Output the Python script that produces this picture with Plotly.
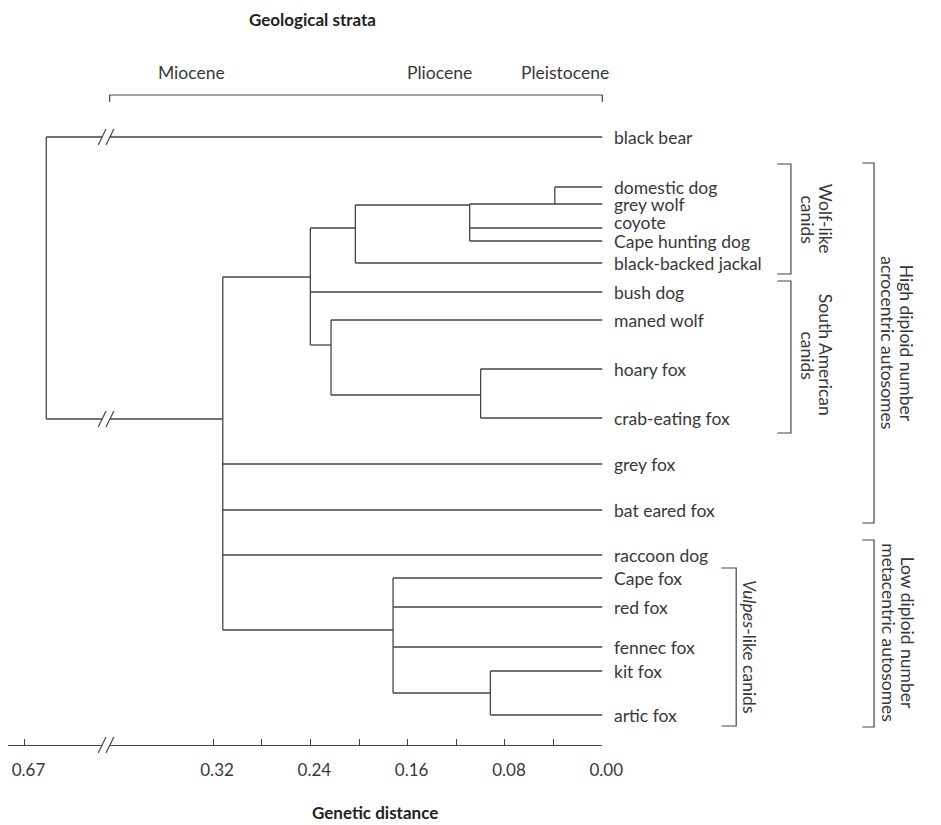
import plotly.graph_objects as go

# ---------------- data ----------------
leaves = ["black bear", "domestic dog", "grey wolf", "coyote", "Cape hunting dog",
          "black-backed jackal", "bush dog", "maned wolf", "hoary fox", "crab-eating fox",
          "grey fox", "bat eared fox", "raccoon dog", "Cape fox", "red fox",
          "fennec fox", "kit fox", "artic fox"]
# vertical layout rows of the leaves (top = 0)
leaf_row = [137, 187, 204, 228, 241, 263, 292, 320, 369, 418,
            464, 510, 555, 578, 607, 647, 671, 715]
label_row_override = {"coyote": 222}

node_names = ["dog_wolf", "wolf_group", "wolf_like", "hoary_crab", "sa_inner",
              "wolf_sa", "kit_arctic", "vulpes", "canids", "root"]
node_children = [["domestic dog", "grey wolf"],
                 ["dog_wolf", "coyote", "Cape hunting dog"],
                 ["wolf_group", "black-backed jackal"],
                 ["hoary fox", "crab-eating fox"],
                 ["maned wolf", "hoary_crab"],
                 ["wolf_like", "bush dog", "sa_inner"],
                 ["kit fox", "artic fox"],
                 ["Cape fox", "red fox", "fennec fox", "kit_arctic"],
                 ["wolf_sa", "grey fox", "bat eared fox", "raccoon dog", "vulpes"],
                 ["black bear", "canids"]]
node_distance = [0.039, 0.109, 0.203, 0.100, 0.223, 0.240, 0.092, 0.172, 0.312, 0.60]
node_join_row = [204, 205, 228, 395, 345, 277, 693, 630, 419, None]

tick_values = [0.67, 0.32, 0.28, 0.24, 0.20, 0.16, 0.12, 0.08, 0.04, 0.00]
tick_labels = ["0.67", "0.32", "", "0.24", "", "0.16", "", "0.08", "", "0.00"]

strata_labels = ["Miocene", "Pliocene", "Pleistocene"]
strata_centers = [0.338, 0.134, 0.031]
strata_span = [0.405, 0.0]

# ---------------- scale (broken axis) ----------------
W, H = 941, 825
PLOT_BOTTOM = 745
PXU = 1244.0      # px per distance unit (linear part)
X0 = 616          # px of distance 0
D_BREAK = 0.408
K = 0.256         # compression beyond the break


def u(d):
    return d if d <= D_BREAK else D_BREAK + (d - D_BREAK) * K


def px2u(px):
    return (X0 - px) / PXU


GAP = 4 / PXU
LINE_COLOR = "#454545"
TEXT_COLOR = "#383838"
FONT = "Lato"
FS = 17.5

dist = {n: 0.0 for n in leaves}
dist.update(zip(node_names, node_distance))
row = dict(zip(leaves, leaf_row))
row.update({n: r for n, r in zip(node_names, node_join_row) if r is not None})

xs, ys = [], []
bx, by = [], []   # break marks


def seg(x1, y1, x2, y2):
    xs.extend([x1, x2, None])
    ys.extend([y1, y2, None])


def slash_pair(y):
    c = u(D_BREAK)
    for off in (-4, 4):
        pc = X0 - c * PXU + off
        bx.extend([px2u(pc - 4), px2u(pc + 4), None])
        by.extend([y + 8, y - 8, None])


for name, ch, d in zip(node_names, node_children, node_distance):
    rows = [row[c] for c in ch]
    seg(u(d), min(rows), u(d), max(rows))
    for c in ch:
        a, b = u(dist[c]), u(d)
        if dist[c] < D_BREAK < d:
            seg(a, row[c], u(D_BREAK) - GAP, row[c])
            seg(u(D_BREAK) + GAP, row[c], b, row[c])
            slash_pair(row[c])
        else:
            seg(a, row[c], b, row[c])

fig = go.Figure()
fig.add_trace(go.Scatter(x=xs, y=ys, mode="lines",
                         line=dict(color=LINE_COLOR, width=1.3),
                         hoverinfo="skip", showlegend=False))
fig.add_trace(go.Scatter(x=bx, y=by, mode="lines",
                         line=dict(color=LINE_COLOR, width=1.2),
                         hoverinfo="skip", showlegend=False))

# geological strata bracket
sx = [u(strata_span[0]), u(strata_span[0]), u(strata_span[1]), u(strata_span[1])]
sy = [102, 95, 95, 102]
fig.add_trace(go.Scatter(x=sx, y=sy, mode="lines",
                         line=dict(color=LINE_COLOR, width=1.2),
                         hoverinfo="skip", showlegend=False))

# right-hand brackets (px layout): (x, top, bottom, tick length)
brackets = [(809, 164, 274, 14), (809, 281, 433, 14), (894, 163, 523, 12),
            (894, 540, 727, 12), (753, 568, 726, 15)]
for bxp, t, b, tl in brackets:
    fig.add_trace(go.Scatter(x=[px2u(bxp - tl), px2u(bxp), px2u(bxp), px2u(bxp - tl)],
                             y=[t, t, b, b], mode="lines",
                             line=dict(color=LINE_COLOR, width=1.2),
                             hoverinfo="skip", showlegend=False))

# invisible anchor trace for the distance axis
fig.add_trace(go.Scatter(x=[0], y=[PLOT_BOTTOM], xaxis="x2", yaxis="y", mode="markers",
                         marker=dict(opacity=0), hoverinfo="skip", showlegend=False))

ann = []
# leaf labels
for name, r in zip(leaves, leaf_row):
    ann.append(dict(x=0, y=label_row_override.get(name, r), xref="x", yref="y",
                    text=name, showarrow=False, xanchor="left", yanchor="middle",
                    xshift=10, font=dict(family=FONT, size=FS, color=TEXT_COLOR)))

# strata labels
for lab, c in zip(strata_labels, strata_centers):
    ann.append(dict(x=u(c), y=72, xref="x", yref="y", text=lab, showarrow=False,
                    xanchor="center", yanchor="middle",
                    font=dict(family=FONT, size=FS, color=TEXT_COLOR)))


def paper_y(py):
    return (PLOT_BOTTOM - py) / PLOT_BOTTOM


ann.append(dict(x=px2u(320), y=paper_y(20), xref="x", yref="paper",
                text="Geological strata", showarrow=False, xanchor="center", yanchor="middle",
                font=dict(family=FONT, size=17, color="#222", weight="bold")))
ann.append(dict(x=px2u(384), y=paper_y(813), xref="x", yref="paper",
                text="Genetic distance", showarrow=False, xanchor="center", yanchor="middle",
                font=dict(family=FONT, size=17, color="#222", weight="bold")))

rot = [("Wolf-like", 845, 219), ("canids", 826, 219),
       ("South American", 845, 355), ("canids", 826, 355),
       ("High diploid number", 928, 343), ("acrocentric autosomes", 908, 343),
       ("Low diploid number", 929, 633), ("metacentric autosomes", 909, 633),
       ("<i>Vulpes</i>-like canids", 767, 647)]
for txt, xp, yp in rot:
    ann.append(dict(x=px2u(xp), y=yp, xref="x", yref="y", text=txt, showarrow=False,
                    textangle=90, xanchor="center", yanchor="middle",
                    font=dict(family=FONT, size=FS, color=TEXT_COLOR)))

shapes = []
# gap and break marks on the distance axis
c = u(D_BREAK)
shapes.append(dict(type="rect", xref="x", yref="paper",
                   x0=c - GAP, x1=c + GAP, y0=paper_y(PLOT_BOTTOM + 2), y1=paper_y(PLOT_BOTTOM - 2),
                   fillcolor="white", line=dict(width=0), layer="above"))
for off in (-4, 4):
    pc = X0 - c * PXU + off
    shapes.append(dict(type="line", xref="x", yref="paper",
                       x0=px2u(pc - 4), x1=px2u(pc + 4),
                       y0=paper_y(PLOT_BOTTOM + 8), y1=paper_y(PLOT_BOTTOM - 8),
                       line=dict(color=LINE_COLOR, width=1.2), layer="above"))

fig.update_layout(
    width=W, height=H,
    margin=dict(l=0, r=0, t=0, b=H - PLOT_BOTTOM),
    paper_bgcolor="white", plot_bgcolor="rgba(0,0,0,0)",
    xaxis=dict(range=[px2u(0), px2u(W)], visible=False, fixedrange=True),
    xaxis2=dict(domain=[8 / W, X0 / W], range=[px2u(8), 0], anchor="y",
                showline=True, linecolor=LINE_COLOR, linewidth=1.3,
                ticks="inside", ticklen=6, tickcolor=LINE_COLOR, tickwidth=1.2,
                tickmode="array", tickvals=[u(v) for v in tick_values], ticktext=tick_labels,
                tickfont=dict(family=FONT, size=17, color=TEXT_COLOR),
                ticklabelstandoff=9, ticklabelshift=-4,
                showgrid=False, zeroline=False, fixedrange=True),
    yaxis=dict(range=[PLOT_BOTTOM, 0], visible=False, fixedrange=True),
    annotations=ann, shapes=shapes,
)

# remove the page's default body margin so the 941x825 figure fills the window exactly
post = "document.body.style.margin='0';"

fig.write_html("out.html", config={"displayModeBar": False}, post_script=post)
